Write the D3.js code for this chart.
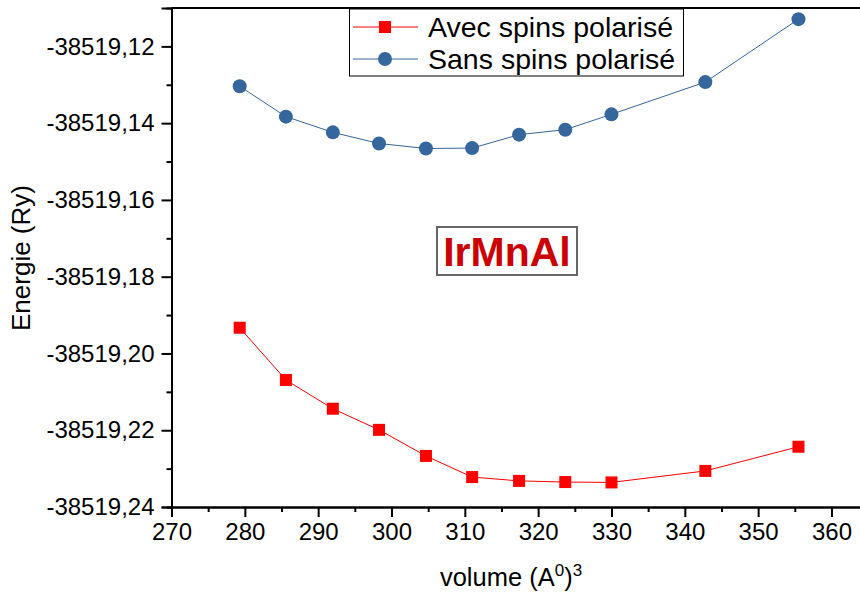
<!DOCTYPE html>
<html>
<head>
<meta charset="utf-8">
<script src="https://cdn.jsdelivr.net/npm/d3@7"></script>
<style>
  body { margin: 0; background: #fff; }
  text { font-family: "Liberation Sans", Arial, sans-serif; }
</style>
</head>
<body>
<div id="chart"></div>
<script>
// data
var volume = [279.3, 285.6, 292.0, 298.3, 304.7, 311.0, 317.4, 323.7, 330.0, 342.8, 355.5];
var avecSpins = [-38519.1933, -38519.2069, -38519.2144, -38519.2199, -38519.2267, -38519.2322,
                 -38519.2332, -38519.2335, -38519.2336, -38519.2306, -38519.2243];
var sansSpins = [-38519.1304, -38519.1383, -38519.1424, -38519.1453, -38519.1466, -38519.1465,
                 -38519.1430, -38519.1417, -38519.1377, -38519.1293, -38519.1129];
var xTicks = [270, 280, 290, 300, 310, 320, 330, 340, 350, 360];
var yTicks = [-38519.24, -38519.22, -38519.20, -38519.18, -38519.16, -38519.14, -38519.12];
var seriesNames = ["Avec spins polarisé", "Sans spins polarisé"];

var svgWidth = 860, svgHeight = 594;
var plotLeft = 171.5, plotTop = 8, plotBottom = 507;

var svg = d3.select("#chart").append("svg")
  .attr("width", svgWidth)
  .attr("height", svgHeight);

var x = d3.scaleLinear().domain([270, 365]).range([plotLeft, plotLeft + 95 * 7.333]);
var y = d3.scaleLinear().domain([-38519.24, -38519.11]).range([plotBottom, plotTop]);

var fmt = function(d) { return d3.format(".2f")(d).replace(".", ",").replace("−", "-"); };

// minor ticks
var xMinor = xTicks.map(function(d) { return d + 5; });
var yMinor = yTicks.slice(0, -1).map(function(d) { return d + 0.01; });

svg.append("g")
  .attr("transform", `translate(0, ${plotBottom})`)
  .call(d3.axisBottom(x).tickValues(xTicks).tickSize(10).tickPadding(6).tickFormat(d3.format("d")));
svg.append("g")
  .attr("transform", `translate(0, ${plotBottom})`)
  .call(d3.axisBottom(x).tickValues(xMinor).tickSize(5).tickFormat(""));

svg.append("g")
  .attr("transform", `translate(${plotLeft}, 0)`)
  .call(d3.axisLeft(y).tickValues(yTicks).tickSize(10).tickPadding(7).tickFormat(fmt));
svg.append("g")
  .attr("transform", `translate(${plotLeft}, 0)`)
  .call(d3.axisLeft(y).tickValues(yMinor).tickSize(5).tickFormat(""));

svg.selectAll(".domain").attr("stroke", "#000").attr("stroke-width", 2);
svg.selectAll(".tick line").attr("stroke", "#000").attr("stroke-width", 2);
svg.selectAll(".tick text").attr("fill", "#000").style("font-size", "24px");

// top frame line
svg.append("line")
  .attr("x1", plotLeft).attr("x2", svgWidth)
  .attr("y1", plotTop).attr("y2", plotTop)
  .attr("stroke", "#000").attr("stroke-width", 2);

var line = d3.line().x(function(d) { return x(d[0]); }).y(function(d) { return y(d[1]); });

var redData = volume.map(function(v, i) { return [v, avecSpins[i]]; });
var blueData = volume.map(function(v, i) { return [v, sansSpins[i]]; });

var red = "#ff0000", blue = "#35669c";

svg.append("path").datum(redData).attr("d", line)
  .attr("fill", "none").attr("stroke", red).attr("stroke-width", 1);
svg.append("path").datum(blueData).attr("d", line)
  .attr("fill", "none").attr("stroke", blue).attr("stroke-width", 1);

svg.selectAll(".sq").data(redData).enter().append("rect")
  .attr("x", function(d) { return x(d[0]) - 6; })
  .attr("y", function(d) { return y(d[1]) - 6; })
  .attr("width", 12).attr("height", 12)
  .attr("fill", red);

svg.selectAll(".dot").data(blueData).enter().append("circle")
  .attr("cx", function(d) { return x(d[0]); })
  .attr("cy", function(d) { return y(d[1]); })
  .attr("r", 7)
  .attr("fill", blue);

// legend
var lg = svg.append("g");
lg.append("rect")
  .attr("x", 349.5).attr("y", 9).attr("width", 334).attr("height", 67)
  .attr("fill", "#fff").attr("stroke", "#000").attr("stroke-width", 1);
[red, blue].forEach(function(c, i) {
  var cy = 27 + i * 32;
  lg.append("line").attr("x1", 353).attr("x2", 418).attr("y1", cy).attr("y2", cy)
    .attr("stroke", c).attr("stroke-width", 1);
  if (i == 0) {
    lg.append("rect").attr("x", 379).attr("y", cy - 6).attr("width", 12).attr("height", 12).attr("fill", c);
  } else {
    lg.append("circle").attr("cx", 385).attr("cy", cy).attr("r", 7).attr("fill", c);
  }
  lg.append("text").attr("x", 428).attr("y", cy + 10)
    .style("font-size", "28.5px").attr("fill", "#000")
    .text(seriesNames[i]);
});

// compound label
svg.append("rect")
  .attr("x", 437).attr("y", 227).attr("width", 140).attr("height", 48)
  .attr("fill", "#fff").attr("stroke", "#666").attr("stroke-width", 2);
svg.append("text")
  .attr("x", 507).attr("y", 266)
  .attr("text-anchor", "middle")
  .style("font-size", "41px").style("font-weight", "bold")
  .attr("fill", "#cc0000")
  .text("IrMnAl");

// axis titles
svg.append("text")
  .attr("transform", "translate(30, 258) rotate(-90)")
  .attr("text-anchor", "middle")
  .style("font-size", "26px")
  .text("Energie (Ry)");

var xt = svg.append("text")
  .attr("x", 511).attr("y", 586)
  .attr("text-anchor", "middle")
  .style("font-size", "25.5px");
xt.append("tspan").text("volume (A");
xt.append("tspan").attr("dy", -10).style("font-size", "17px").text("0");
xt.append("tspan").attr("dy", 10).text(")");
xt.append("tspan").attr("dy", -10).style("font-size", "17px").text("3");
</script>
</body>
</html>
